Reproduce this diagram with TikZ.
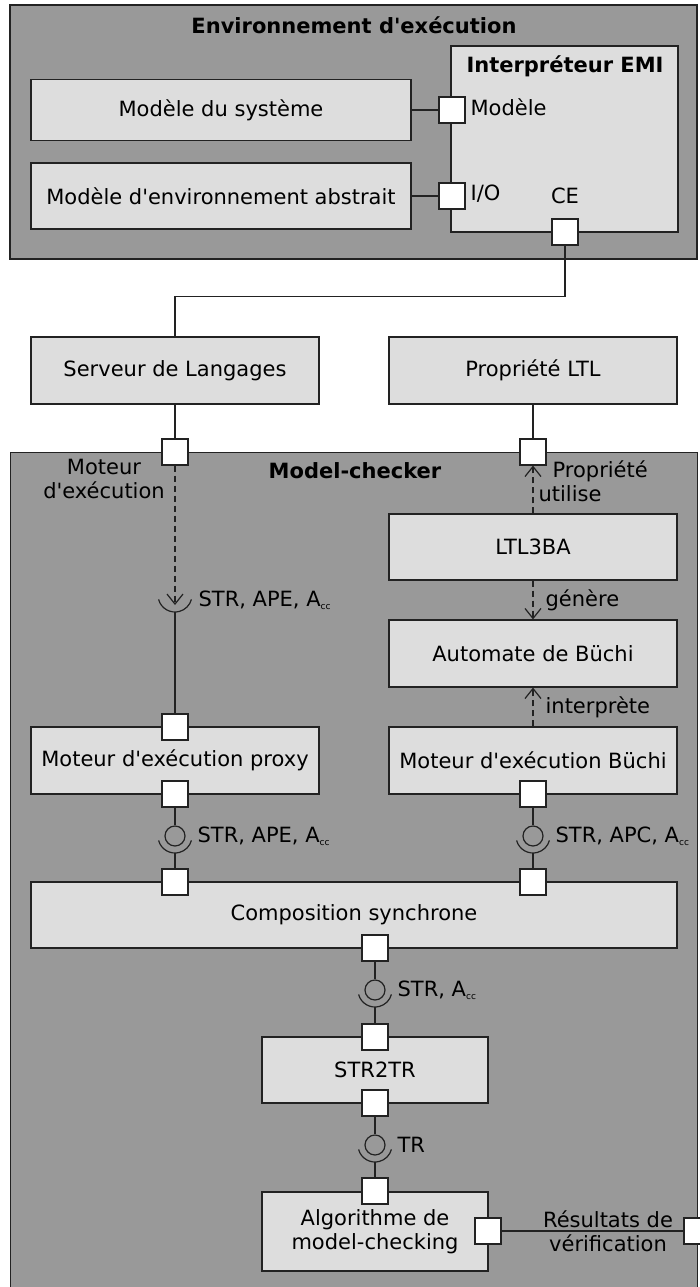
\documentclass[tikz,border=0pt]{standalone}
\usepackage{fontspec}
\setmainfont{DejaVu Sans}
\usetikzlibrary{arrows.meta}
\definecolor{outerg}{HTML}{999999}
\definecolor{innerg}{HTML}{DDDDDD}
\definecolor{linec}{HTML}{222222}
\newcommand{\acc}{A\raisebox{-3pt}{\fontsize{9}{9}\selectfont cc}}
\newcommand{\ap}{\textquotesingle}
\newcommand{\socketarc}[1]{\draw ([shift={(195:17pt)}]#1) arc[start angle=195,end angle=345,radius=17pt];}
\tikzset{
  outer/.style={draw, fill=outerg},
  box/.style={draw, fill=innerg, inner sep=0pt, align=center},
  port/.style={draw, fill=white, minimum size=26pt, inner sep=0pt},
  ball/.style={draw, circle, minimum size=20pt, inner sep=0pt},
  lbl/.style={inner sep=0pt, anchor=west},
  txt/.style={inner sep=0pt, align=center},
  ttl/.style={inner sep=0pt, font=\fontsize{21}{24}\selectfont\bfseries},
  dsh/.style={dash pattern=on 6pt off 4pt, -{Straight Barb[length=10pt,width=16pt]}},
}
\begin{document}
\begin{tikzpicture}[x=1pt,y=-1pt,line width=1.2pt,draw=linec,font=\fontsize{21}{24}\selectfont]
\useasboundingbox (0,0) rectangle (699,1287);
% outer containers
\node[outer, minimum width=687pt, minimum height=254pt, inner sep=0pt] (envx) at (353.5,132) {};
\node[ttl] (envt) at (354,25) {Environnement d\ap exécution};
\node[box, minimum width=227pt, minimum height=186pt] (interp) at (564.5,139) {};
\node[ttl] (interpt) at (565,66) {Interpréteur EMI};
\node[box, minimum width=380pt, minimum height=61pt] (sys) at (221,110) {Modèle du système};
\node[box, minimum width=380pt, minimum height=66pt] (envm) at (221,196) {Modèle d\ap environnement abstrait};
\node[port] (pMod) at (452,110) {};
\node[port] (pIO) at (452,196) {};
\node[port] (pCE) at (565,232) {};
\node[lbl] (lMod) at (470,107) {Modèle};
\node[lbl] (lIO) at (470,194) {I/O};
\node[txt] (lCE) at (565,196) {CE};
\draw (sys.east) -- (pMod.west);
\draw (envm.east) -- (pIO.west);

\node[box, minimum width=288pt, minimum height=67pt] (srv) at (175,370.5) {Serveur de Langages};
\node[box, minimum width=288pt, minimum height=67pt] (prop) at (533,370.5) {Propriété LTL};
\draw (pCE.south) -- ++(0,51) -| (srv.north);

% model checker
\node[outer, minimum width=687pt, minimum height=850pt, inner sep=0pt, anchor=north west] (mc) at (10,452) {};
\node[ttl] (mct) at (355,471) {Model-checker};
\node[port] (pSrv) at (175,452) {};
\node[port] (pProp) at (533,452) {};
\draw (srv.south) -- (pSrv.north);
\draw (prop.south) -- (pProp.north);
\node[txt] (lMot) at (104,479) {Moteur\\d\ap exécution};
\node[lbl] (lProp) at (552,471) {Propriété};

\node[box, minimum width=288pt, minimum height=66pt] (ltl) at (533,547) {LTL3BA};
\node[box, minimum width=288pt, minimum height=67pt] (aut) at (533,653.5) {Automate de Büchi};
\node[box, minimum width=288pt, minimum height=67pt] (mb) at (533,760.5) {Moteur d\ap exécution Büchi};
\node[box, minimum width=288pt, minimum height=67pt] (px) at (175,760.5) {Moteur d\ap exécution proxy};
\draw[dsh] (ltl.north) -- (pProp.south);
\node[lbl] (lUt) at (538,494) {utilise};
\draw[dsh] (ltl.south) -- (aut.north);
\node[lbl] (lGen) at (545,600) {génère};
\draw[dsh] (mb.north) -- (aut.south);
\node[lbl] (lInt) at (545,707) {interprète};

% required interface from Moteur port
\coordinate (s0) at (175,595);
\coordinate (s0tip) at (175,605);
\coordinate (s0bot) at (175,612);
\draw[dsh] (pSrv.south) -- (s0tip);
\socketarc{s0}
\node[lbl] (l0) at (198,600) {STR, APE, \acc};

\node[port] (pPxTop) at (175,727) {};
\node[port] (pPxBot) at (175,794) {};
\node[port] (pMbBot) at (533,794) {};
\draw (s0bot) -- (pPxTop.north);

\node[box, minimum width=646pt, minimum height=66pt] (comp) at (354,915) {Composition synchrone};
\node[port] (pCoL) at (175,882) {};
\node[port] (pCoR) at (533,882) {};
\node[port] (pCoB) at (375,948) {};

% ball and socket 1
\node[ball] (b1) at (175,836) {};
\coordinate (k1) at (175,853);
\draw (pPxBot.south) -- (b1.north);
\socketarc{b1.center}
\draw (k1) -- (pCoL.north);
\node[lbl] (l1) at (197,836) {STR, APE, \acc};
% ball and socket 2
\node[ball] (b2) at (533,836) {};
\coordinate (k2) at (533,853);
\draw (pMbBot.south) -- (b2.north);
\socketarc{b2.center}
\draw (k2) -- (pCoR.north);
\node[lbl] (l2) at (555,836) {STR, APC, \acc};

\node[box, minimum width=226pt, minimum height=66pt] (st) at (375,1070) {STR2TR};
\node[port] (pStTop) at (375,1037) {};
\node[port] (pStBot) at (375,1103) {};
% ball and socket 3
\node[ball] (b3) at (375,990) {};
\coordinate (k3) at (375,1007);
\draw (pCoB.south) -- (b3.north);
\socketarc{b3.center}
\draw (k3) -- (pStTop.north);
\node[lbl] (l3) at (397,990) {STR, \acc};

\node[box, minimum width=226pt, minimum height=79pt] (alg) at (375,1231.5) {Algorithme de\\model-checking};
\node[port] (pAlTop) at (375,1191) {};
\node[port] (pAlR) at (488,1231) {};
\node[port] (pRes) at (697,1231) {};
% ball and socket 4
\node[ball] (b4) at (375,1145) {};
\coordinate (k4) at (375,1162);
\draw (pStBot.south) -- (b4.north);
\socketarc{b4.center}
\draw (k4) -- (pAlTop.north);
\node[lbl] (l4) at (397,1145) {TR};

\draw (pAlR.east) -- (pRes.west);
\node[txt] (lRes) at (608,1231) {Résultats de\\vérification};
\end{tikzpicture}
\end{document}
